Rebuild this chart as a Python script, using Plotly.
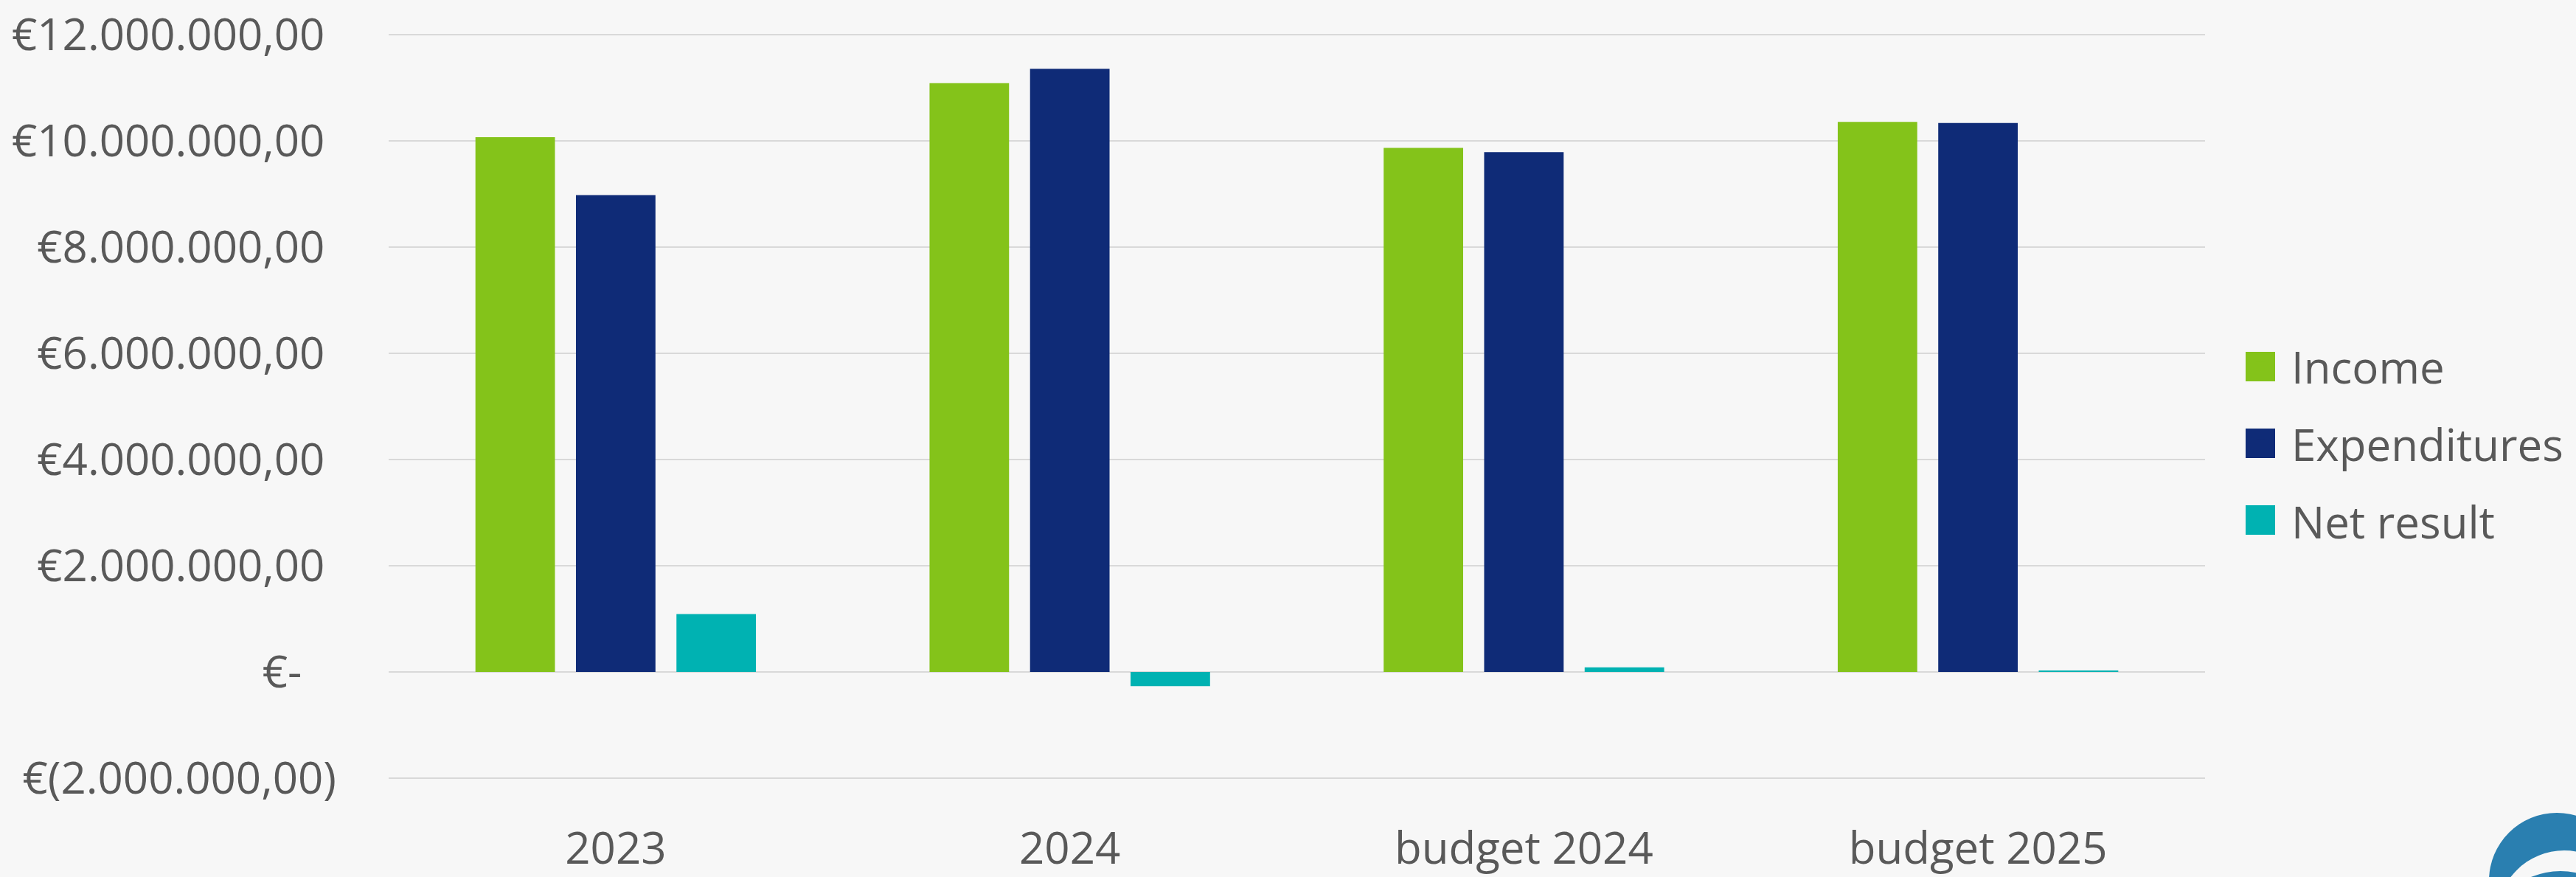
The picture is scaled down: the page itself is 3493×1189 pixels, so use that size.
import plotly.graph_objects as go

categories = ["2023", "2024", "budget 2024", "budget 2025"]
income = [10070000, 11090000, 9870000, 10360000]
expenditures = [8980000, 11360000, 9790000, 10340000]
net_result = [1090000, -270000, 85000, 21000]

series_names = ["Income", "Expenditures", "Net result"]
series_colors = ["#84c31a", "#0f2b77", "#00b2b2"]

y_tickvals = [-2000000, 0, 2000000, 4000000, 6000000, 8000000, 10000000, 12000000]
y_ticktext = [
    "€(2.000.000,00)",
    "€-\u00a0\u00a0\u00a0",
    "€2.000.000,00\u00a0",
    "€4.000.000,00\u00a0",
    "€6.000.000,00\u00a0",
    "€8.000.000,00\u00a0",
    "€10.000.000,00\u00a0",
    "€12.000.000,00\u00a0",
]

fig = go.Figure()

for name, values, color in zip(series_names, [income, expenditures, net_result], series_colors):
    fig.add_trace(go.Bar(
        x=categories,
        y=values,
        name=name,
        legendgroup=name,
        marker=dict(color=color, line=dict(width=0))
    ))

# bigger square swatches behind the legend symbols (Excel style)
swatch_centers = [560, 456, 352]  # pixels above the plot bottom
for yc, color in zip(swatch_centers, series_colors):
    fig.add_shape(
        type="rect", xref="paper", yref="paper",
        xsizemode="pixel", ysizemode="pixel", xanchor=1, yanchor=0,
        x0=55, x1=95, y0=yc - 20, y1=yc + 20,
        fillcolor=color, line=dict(width=0), layer="above"
    )

# small logo in the bottom right corner
logo = [
    dict(x0=385, x1=569, y0=-229, y1=-45, color="#2a7fb0"),
    dict(x0=396, x1=578, y0=-278, y1=-96, color="#f7f7f7"),
    dict(x0=379, x1=585, y0=-330, y1=-124, color="#2a7fb0"),
]
for c in logo:
    fig.add_shape(
        type="circle", xref="paper", yref="paper",
        xsizemode="pixel", ysizemode="pixel", xanchor=1, yanchor=0,
        x0=c["x0"], x1=c["x1"], y0=c["y0"], y1=c["y1"],
        fillcolor=c["color"], line=dict(width=0), layer="above"
    )

fig.update_layout(
    width=3493,
    height=1189,
    margin=dict(l=527, r=500, t=45, b=132, pad=0),
    paper_bgcolor="#f7f7f7",
    plot_bgcolor="#f7f7f7",
    font=dict(family="Open Sans, Noto Sans, sans-serif", size=60, color="#595959"),
    barmode="group",
    bargap=0.336,
    bargroupgap=0.209,
    legend=dict(
        x=1.0134, y=0.45, xanchor="left", yanchor="middle",
        font=dict(size=60, color="#595959"),
        bgcolor="rgba(0,0,0,0)",
        itemwidth=74,
        tracegroupgap=24,
    ),
    showlegend=True,
)

fig.update_yaxes(
    range=[-2030000, 12030000],
    tickvals=y_tickvals,
    ticktext=y_ticktext,
    showgrid=True,
    gridcolor="#d9d9d9",
    gridwidth=2,
    zeroline=False,
    showline=False,
    ticks="",
    ticklabelstandoff=70,
    automargin=False,
)

fig.update_xaxes(
    showgrid=False,
    showline=False,
    ticks="",
    ticklabelstandoff=53,
    automargin=False,
)

fig.write_html(
    "out.html",
    config={"displayModeBar": False},
    post_script="document.body.style.margin='0';",
)
